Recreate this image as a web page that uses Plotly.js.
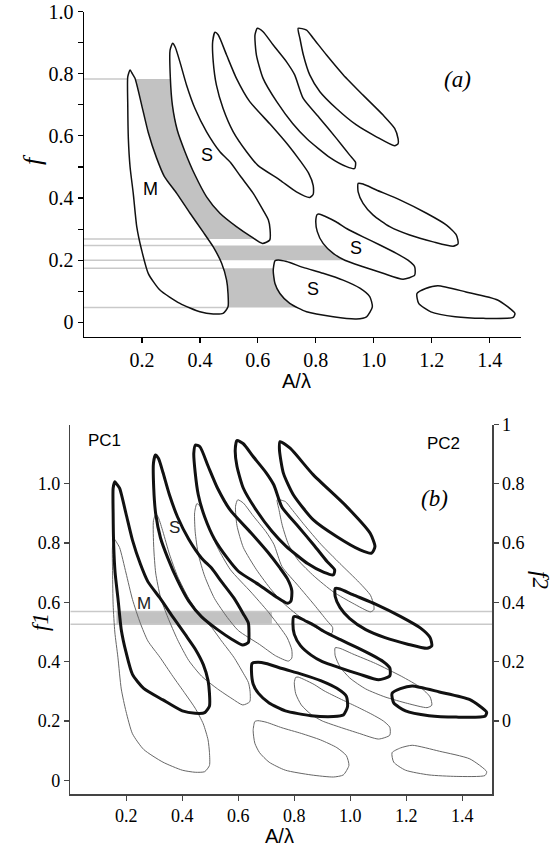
<!DOCTYPE html>
<html>
<head>
<meta charset="utf-8">
<script src="https://cdn.plot.ly/plotly-3.0.1.min.js"></script>
<style>html,body{margin:0;padding:0;background:#fff;}#chart{width:552px;height:848px;}</style>
</head>
<body>
<div id="chart"></div>
<script>
// ---------- PC1 resonance tongues (A/lambda, f) : panel (a) and thin curves of panel (b)
const pc1_t1_x = [0.159,0.151,0.151,0.153,0.159,0.170,0.182,0.199,0.222,0.262,0.331,0.400,0.446,0.480,0.497,0.497,0.492,0.475,0.446,0.411,0.366,0.320,0.277,0.250,0.222,0.199,0.176,0.165,0.159];
const pc1_t1_f = [0.812,0.790,0.699,0.592,0.500,0.415,0.308,0.232,0.157,0.104,0.061,0.034,0.027,0.029,0.050,0.093,0.136,0.190,0.243,0.291,0.351,0.415,0.470,0.530,0.610,0.699,0.785,0.803,0.812];
const pc1_t2_x = [0.306,0.297,0.298,0.305,0.322,0.348,0.383,0.423,0.469,0.526,0.578,0.616,0.641,0.642,0.636,0.618,0.584,0.540,0.505,0.469,0.423,0.383,0.354,0.331,0.315,0.306];
const pc1_t2_f = [0.898,0.876,0.785,0.699,0.618,0.550,0.474,0.404,0.351,0.308,0.275,0.254,0.265,0.300,0.330,0.361,0.415,0.470,0.515,0.549,0.613,0.688,0.763,0.838,0.885,0.898];
const pc1_t3_x = [0.452,0.444,0.446,0.457,0.480,0.515,0.561,0.600,0.676,0.733,0.779,0.791,0.791,0.775,0.748,0.705,0.645,0.572,0.526,0.492,0.463,0.452];
const pc1_t3_f = [0.933,0.903,0.838,0.763,0.688,0.613,0.549,0.505,0.458,0.420,0.402,0.412,0.440,0.480,0.517,0.570,0.635,0.710,0.785,0.860,0.925,0.933];
const pc1_t4_x = [0.598,0.590,0.595,0.618,0.665,0.720,0.770,0.849,0.906,0.934,0.937,0.917,0.871,0.814,0.756,0.727,0.699,0.653,0.618,0.598];
const pc1_t4_f = [0.946,0.924,0.860,0.785,0.710,0.640,0.590,0.530,0.501,0.495,0.515,0.538,0.592,0.656,0.721,0.796,0.838,0.892,0.935,0.946];
const pc1_t5_x = [0.739,0.745,0.757,0.779,0.814,0.871,0.940,1.009,1.072,1.084,1.084,1.072,1.032,0.963,0.895,0.837,0.791,0.768,0.739];
const pc1_t5_f = [0.946,0.914,0.860,0.796,0.742,0.688,0.635,0.597,0.568,0.575,0.590,0.624,0.667,0.731,0.796,0.860,0.914,0.940,0.946];
const pc1_t6_x = [0.946,0.946,0.963,0.998,1.055,1.124,1.205,1.274,1.291,1.285,1.251,1.182,1.090,1.009,0.963,0.946];
const pc1_t6_f = [0.447,0.420,0.383,0.345,0.308,0.281,0.259,0.245,0.253,0.281,0.313,0.351,0.394,0.426,0.445,0.447];
const pc1_t7_x = [0.805,0.800,0.805,0.825,0.860,0.900,0.963,1.032,1.101,1.141,1.141,1.118,1.078,1.021,0.963,0.906,0.871,0.837,0.814,0.805];
const pc1_t7_f = [0.347,0.329,0.292,0.254,0.222,0.200,0.179,0.158,0.139,0.152,0.179,0.200,0.222,0.249,0.275,0.302,0.323,0.339,0.348,0.347];
const pc1_t8_x = [0.659,0.653,0.659,0.676,0.710,0.768,0.860,0.940,0.975,0.995,0.986,0.952,0.894,0.825,0.756,0.699,0.670,0.659];
const pc1_t8_f = [0.198,0.168,0.125,0.093,0.061,0.034,0.018,0.011,0.018,0.050,0.083,0.110,0.136,0.158,0.177,0.196,0.201,0.198];
const pc1_t9_x = [1.149,1.179,1.221,1.318,1.427,1.487,1.481,1.378,1.281,1.197,1.155,1.149];
const pc1_t9_f = [0.093,0.109,0.118,0.098,0.072,0.029,0.016,0.013,0.018,0.034,0.061,0.093];

// ---------- PC2 resonance tongues (A/lambda, f2) : thick curves of panel (b)
const pc2_t1_x = [0.159,0.153,0.153,0.155,0.160,0.170,0.182,0.199,0.222,0.262,0.331,0.400,0.446,0.480,0.497,0.497,0.492,0.475,0.446,0.411,0.366,0.320,0.277,0.250,0.222,0.199,0.176,0.165,0.159];
const pc2_t1_f = [0.807,0.785,0.699,0.592,0.500,0.415,0.308,0.232,0.157,0.110,0.071,0.034,0.026,0.028,0.050,0.093,0.136,0.190,0.243,0.291,0.351,0.415,0.470,0.530,0.610,0.699,0.785,0.800,0.807];
const pc2_t2_x = [0.304,0.297,0.298,0.305,0.322,0.348,0.383,0.423,0.469,0.526,0.578,0.616,0.636,0.638,0.636,0.618,0.584,0.540,0.505,0.469,0.423,0.383,0.354,0.331,0.315,0.304];
const pc2_t2_f = [0.897,0.870,0.785,0.699,0.618,0.550,0.474,0.404,0.351,0.308,0.275,0.256,0.265,0.300,0.330,0.361,0.415,0.470,0.515,0.549,0.613,0.688,0.763,0.838,0.885,0.897];
const pc2_t3_x = [0.447,0.441,0.446,0.457,0.480,0.515,0.561,0.600,0.676,0.733,0.775,0.788,0.791,0.775,0.748,0.705,0.645,0.572,0.526,0.492,0.463,0.447];
const pc2_t3_f = [0.931,0.903,0.838,0.763,0.688,0.613,0.549,0.505,0.458,0.420,0.397,0.405,0.440,0.480,0.517,0.570,0.635,0.710,0.785,0.860,0.925,0.931];
const pc2_t4_x = [0.595,0.589,0.595,0.618,0.665,0.720,0.770,0.849,0.906,0.940,0.944,0.917,0.871,0.814,0.756,0.727,0.699,0.653,0.618,0.595];
const pc2_t4_f = [0.946,0.914,0.860,0.785,0.710,0.640,0.590,0.530,0.501,0.493,0.510,0.538,0.592,0.656,0.721,0.796,0.838,0.892,0.935,0.946];
const pc2_t5_x = [0.749,0.747,0.761,0.797,0.868,0.951,1.035,1.076,1.088,1.071,0.987,0.868,0.785,0.749];
const pc2_t5_f = [0.942,0.914,0.836,0.762,0.678,0.622,0.577,0.566,0.588,0.633,0.723,0.830,0.920,0.942];
const pc2_t6_x = [0.946,0.946,0.963,0.998,1.055,1.124,1.205,1.274,1.291,1.285,1.251,1.182,1.090,1.009,0.963,0.946];
const pc2_t6_f = [0.447,0.420,0.383,0.345,0.308,0.281,0.259,0.245,0.253,0.281,0.313,0.351,0.394,0.426,0.445,0.447];
const pc2_t7_x = [0.798,0.795,0.800,0.822,0.860,0.900,0.963,1.032,1.101,1.141,1.141,1.118,1.078,1.021,0.963,0.906,0.871,0.837,0.814,0.798];
const pc2_t7_f = [0.352,0.329,0.292,0.254,0.222,0.200,0.179,0.158,0.139,0.152,0.179,0.200,0.222,0.249,0.275,0.302,0.323,0.339,0.350,0.352];
const pc2_t8_x = [0.649,0.647,0.653,0.672,0.710,0.768,0.860,0.940,0.975,0.990,0.986,0.952,0.894,0.825,0.756,0.699,0.670,0.649];
const pc2_t8_f = [0.194,0.168,0.125,0.093,0.061,0.034,0.018,0.015,0.020,0.048,0.083,0.110,0.136,0.158,0.177,0.194,0.198,0.194];
const pc2_t9_x = [1.149,1.179,1.221,1.318,1.427,1.487,1.481,1.378,1.281,1.197,1.155,1.149];
const pc2_t9_f = [0.093,0.109,0.118,0.098,0.072,0.029,0.016,0.013,0.018,0.034,0.061,0.093];

// ---------- shaded regions and reference lines, panel (a)
const bandA1_x = [0.176,0.298,0.305,0.322,0.348,0.383,0.423,0.469,0.526,0.578,0.594,0.428,0.411,0.366,0.320,0.277,0.250,0.222,0.199,0.176];
const bandA1_f = [0.783,0.783,0.699,0.618,0.550,0.474,0.404,0.351,0.308,0.275,0.268,0.268,0.291,0.351,0.415,0.470,0.530,0.610,0.699,0.783];
const bandA2_x = [0.443,0.830,0.860,0.895,0.470,0.443];
const bandA2_f = [0.247,0.247,0.222,0.200,0.200,0.247];
const bandA3_x = [0.480,0.655,0.653,0.659,0.676,0.710,0.738,0.497,0.497,0.492,0.480];
const bandA3_f = [0.174,0.174,0.168,0.125,0.093,0.061,0.048,0.048,0.093,0.136,0.174];
const lineA_f    = [0.783,0.268,0.247,0.200,0.174,0.048];
const lineA_xend = [0.151,0.428,0.444,0.470,0.480,0.497];

// ---------- shaded region and reference lines, panel (b)
const bandB_x = [0.165,0.720];
const bandB_f = [0.526,0.569];
const lineB_f = [0.569,0.526];

// ---------- ticks
const xTickVals = [0.2,0.4,0.6,0.8,1.0,1.2,1.4];
const xTickText = ['0.2','0.4','0.6','0.8','1.0','1.2','1.4'];
const yATickVals = [0,0.1,0.2,0.3,0.4,0.5,0.6,0.7,0.8,0.9,1.0];
const yATickText = ['0','','0.2','','0.4','','0.6','','0.8','','1.0'];
const yBTickVals = [0,0.2,0.4,0.6,0.8,1.0];
const yBTickText = ['0','0.2','0.4','0.6','0.8','1.0'];
const y2TickVals = [0,0.2,0.4,0.6,0.8,1.0];
const y2TickText = ['0','0.2','0.4','0.6','0.8','1'];

const pc1 = [[pc1_t1_x,pc1_t1_f],[pc1_t2_x,pc1_t2_f],[pc1_t3_x,pc1_t3_f],[pc1_t4_x,pc1_t4_f],[pc1_t5_x,pc1_t5_f],[pc1_t6_x,pc1_t6_f],[pc1_t7_x,pc1_t7_f],[pc1_t8_x,pc1_t8_f],[pc1_t9_x,pc1_t9_f]];
const pc2 = [[pc2_t1_x,pc2_t1_f],[pc2_t2_x,pc2_t2_f],[pc2_t3_x,pc2_t3_f],[pc2_t4_x,pc2_t4_f],[pc2_t5_x,pc2_t5_f],[pc2_t6_x,pc2_t6_f],[pc2_t7_x,pc2_t7_f],[pc2_t8_x,pc2_t8_f],[pc2_t9_x,pc2_t9_f]];

const GRAYFILL = '#c2c2c2';
const GRAYLINE = '#c9c9c9';
const traces = [];

// panel (a): lines, bands, tongues
lineA_f.forEach((f,i)=>{
  traces.push({x:[0,lineA_xend[i]], y:[f,f], xaxis:'x', yaxis:'y', mode:'lines', line:{color:GRAYLINE,width:1.5}, hoverinfo:'skip'});
});
[[bandA1_x,bandA1_f],[bandA2_x,bandA2_f],[bandA3_x,bandA3_f]].forEach(b=>{
  traces.push({x:b[0], y:b[1], xaxis:'x', yaxis:'y', mode:'lines', fill:'toself', fillcolor:GRAYFILL, line:{width:0,color:GRAYFILL}, hoverinfo:'skip'});
});
pc1.forEach(t=>{
  traces.push({x:t[0], y:t[1], xaxis:'x', yaxis:'y', mode:'lines', line:{color:'#111',width:1.5,shape:'spline',smoothing:0.6}, hoverinfo:'skip'});
});

// panel (b)
traces.push({x:[bandB_x[0],bandB_x[1],bandB_x[1],bandB_x[0],bandB_x[0]], y:[bandB_f[0],bandB_f[0],bandB_f[1],bandB_f[1],bandB_f[0]], xaxis:'x2', yaxis:'y2', mode:'lines', fill:'toself', fillcolor:GRAYFILL, line:{width:0,color:GRAYFILL}, hoverinfo:'skip'});
lineB_f.forEach(f=>{
  traces.push({x:[0,1.506], y:[f,f], xaxis:'x2', yaxis:'y2', mode:'lines', line:{color:GRAYLINE,width:1.5}, hoverinfo:'skip'});
});
pc1.forEach(t=>{
  traces.push({x:t[0], y:t[1], xaxis:'x2', yaxis:'y2', mode:'lines', line:{color:'#666',width:1,shape:'spline',smoothing:0.6}, hoverinfo:'skip'});
});
pc2.forEach(t=>{
  traces.push({x:t[0], y:t[1], xaxis:'x2', yaxis:'y3', mode:'lines', line:{color:'#111',width:3,shape:'spline',smoothing:0.6}, hoverinfo:'skip'});
});

const serif = 'Liberation Serif, Times New Roman, serif';
const sans = 'Liberation Sans, Arial, sans-serif';
const axBase = {showgrid:false, zeroline:false, showline:true, ticks:'outside', ticklen:5, tickwidth:1.2, fixedrange:true};
const fontA = {family:serif, size:20, color:'#000'};
const fontB = {family:serif, size:18, color:'#000'};

const W = 552, H = 848;
const px = v => v / W;
const py = v => 1 - v / H;
function ann(text, x, y, opts) {
  return Object.assign({text:text, x:px(x), y:py(y), xref:'paper', yref:'paper', xanchor:'center', yanchor:'middle', showarrow:false}, opts);
}

const layout = {
  width: W, height: H,
  margin: {l:0, r:0, t:0, b:0},
  paper_bgcolor: '#fff', plot_bgcolor: 'rgba(0,0,0,0)',
  showlegend: false,
  xaxis: Object.assign({}, axBase, {domain:[84/W, 521/W], range:[0,1.508], anchor:'y', linecolor:'#000', linewidth:1.5, tickcolor:'#000', tickvals:xTickVals, ticktext:xTickText, tickfont:fontA}),
  yaxis: Object.assign({}, axBase, {domain:[py(336.7), py(11.5)], range:[-0.046,1.0], anchor:'x', linecolor:'#000', linewidth:1.5, tickcolor:'#000', tickvals:yATickVals, ticktext:yATickText, tickfont:fontA}),
  xaxis2: Object.assign({}, axBase, {domain:[70.3/W, 492/W], range:[0,1.506], anchor:'y2', linecolor:'#444', linewidth:1.5, tickcolor:'#444', tickvals:xTickVals, ticktext:xTickText, tickfont:fontB}),
  yaxis2: Object.assign({}, axBase, {domain:[py(794.2), py(424.5)], range:[-0.047,1.2], anchor:'x2', linecolor:'#444', linewidth:1.5, tickcolor:'#444', tickvals:yBTickVals, ticktext:yBTickText, tickfont:fontB}),
  yaxis3: Object.assign({}, axBase, {overlaying:'y2', side:'right', anchor:'x2', range:[-0.247,1.0], linecolor:'#444', linewidth:1.5, tickcolor:'#444', tickvals:y2TickVals, ticktext:y2TickText, tickfont:fontB}),
  annotations: [
    ann('<i>f</i>', 33, 160, {textangle:-90, font:{family:serif, size:26, color:'#000'}}),
    ann('A/λ', 296, 381, {font:{family:sans, size:20, color:'#000'}}),
    ann('<i>(a)</i>', 457, 79, {font:{family:serif, size:23, color:'#000'}}),
    ann('M', 150, 189, {font:{family:sans, size:18, color:'#000'}}),
    ann('S', 207, 155, {font:{family:sans, size:18, color:'#000'}}),
    ann('S', 356, 248, {font:{family:sans, size:18, color:'#000'}}),
    ann('S', 313, 289, {font:{family:sans, size:18, color:'#000'}}),
    ann('<i>f1</i>', 40, 622, {textangle:-90, font:{family:serif, size:23, color:'#000'}}),
    ann('<i>f2</i>', 541, 580, {textangle:90, font:{family:serif, size:23, color:'#000'}}),
    ann('A/λ', 279, 836, {font:{family:sans, size:20, color:'#000'}}),
    ann('PC1', 104, 441, {font:{family:sans, size:17, color:'#000'}}),
    ann('PC2', 443, 443, {font:{family:sans, size:17, color:'#000'}}),
    ann('<i>(b)</i>', 435, 498, {font:{family:serif, size:23, color:'#000'}}),
    ann('S', 174, 527, {font:{family:sans, size:17, color:'#222'}}),
    ann('M', 144, 603, {font:{family:sans, size:17, color:'#222'}})
  ]
};

Plotly.newPlot('chart', traces, layout, {staticPlot:true, displayModeBar:false});
</script>
</body>
</html>
